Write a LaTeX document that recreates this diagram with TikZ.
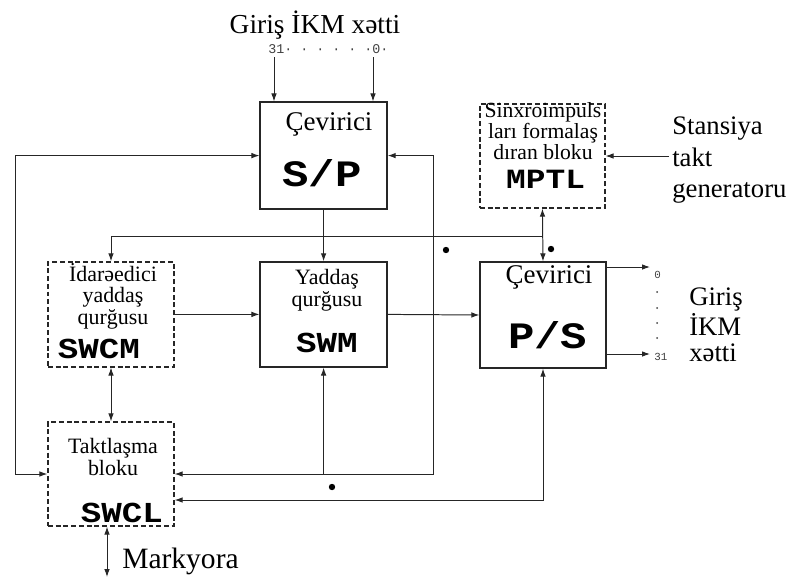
\documentclass[tikz,border=0pt]{standalone}
\usepackage{fontspec}
\setmainfont{Liberation Serif}
\setmonofont{Liberation Mono}
\newfontfamily\codefont[FakeStretch=1.18]{Liberation Mono}
\usetikzlibrary{arrows.meta,positioning}

\begin{document}
\begin{tikzpicture}[>={Latex[length=2mm,width=1.4mm]},
  blk/.style={draw=black!85,line width=0.9pt,minimum width=3.15cm,minimum height=2.62cm,inner sep=0pt},
  dblk/.style={blk,dash pattern=on 3.5pt off 2pt},
  lbl/.style={font=\fontsize{15.6}{15.3}\selectfont,align=center,inner sep=0pt},
  big/.style={font=\fontsize{19.2}{21}\selectfont,inner sep=0pt},
  code/.style={font=\fontsize{20.6}{22}\selectfont\codefont\bfseries,inner sep=0pt},
  bigcode/.style={font=\fontsize{26.5}{28}\selectfont\codefont\bfseries,inner sep=0pt},
  wire/.style={draw=black!85,line width=0.7pt},
  jdot/.style={circle,fill=black,inner sep=0pt,minimum size=0.16cm}]
\useasboundingbox (0,0) rectangle (19.825,-14.425);

% blocks
\node[blk,minimum width=3.175cm,minimum height=2.675cm] (sp) at (8.09,-3.89) {};
\node[blk,minimum width=3.175cm,minimum height=2.625cm] (swm) at (8.09,-7.86) {};
\node[blk,minimum height=2.65cm] (ps) at (13.575,-7.875) {};
\node[dblk,minimum width=3.125cm,minimum height=2.6cm] (mptl) at (13.56,-3.9) {};
\node[dblk,minimum height=2.625cm] (swcm) at (2.775,-7.86) {};
\node[dblk,minimum height=2.6cm] (swcl) at (2.775,-11.85) {};

% block texts
\node[big,anchor=base] (sptxt) at (8.225,-3.25) {Çevirici};
\node[bigcode,anchor=base] (spname) at (8.05,-4.65) {S/P};
\node[big,anchor=base] (pstxt) at (13.725,-7.075) {Çevirici};
\node[bigcode,anchor=base] (psname) at (13.69,-8.7) {P/S};
\node[lbl,font=\fontsize{15.4}{14.8}\selectfont] (mptltxt) at (13.575,-3.28) {Sinxroimpuls\\ları formalaş\\dıran bloku};
\node[code,anchor=base,font=\fontsize{19.8}{21}\selectfont\codefont\bfseries] (mptlname) at (13.64,-4.7) {MPTL};
\node[lbl] (swcmtxt) at (2.825,-7.4) {İdarəedici\\yaddaş\\qurğusu};
\node[code,anchor=base] (swcmname) at (2.475,-8.95) {SWCM};
\node[lbl] (swmtxt) at (8.175,-7.25) {Yaddaş\\qurğusu};
\node[code,anchor=base] (swmname) at (8.175,-8.8) {SWM};
\node[lbl] (swcltxt) at (2.825,-11.425) {Taktlaşma\\bloku};
\node[code,anchor=base] (swclname) at (3.05,-13.05) {SWCL};

% outer texts
\node[font=\fontsize{19.5}{21}\selectfont,anchor=base,inner sep=0pt] (title) at (7.875,-0.825) {Giriş İKM xətti};
\node[font=\fontsize{9.5}{10}\selectfont\ttfamily,text=black!75,anchor=base west,inner sep=0pt] (bits) at (6.7,-1.325) {31· · · · · ·0·};
\node[font=\fontsize{19}{22.2}\selectfont,align=left,anchor=north west,inner sep=0pt] (gen) at (16.8,-2.925) {Stansiya\\takt\\generatoru};
\node[font=\fontsize{19}{18.9}\selectfont,align=left,anchor=north west,inner sep=0pt] (out) at (17.225,-7.2) {Giriş\\İKM\\xətti};
\node[font=\fontsize{21}{23}\selectfont,anchor=base west,inner sep=0pt] (mark) at (3.05,-14.2) {Markyora};
\node[font=\fontsize{7.7}{8}\selectfont\ttfamily,text=black!75,anchor=west,inner sep=0pt] (b0) at (16.35,-6.875) {0};
\node[font=\fontsize{7.7}{8}\selectfont\ttfamily,text=black!75,anchor=west,inner sep=0pt] (b31) at (16.35,-8.925) {31};

% helper points
\coordinate (in31) at (6.85,-1.425);
\coordinate (in0) at (9.325,-1.425);
\coordinate (lft) at (0.375,-3.89);
\coordinate (rgt) at (10.825,-3.89);
\coordinate (bus) at (0,-5.9);
\coordinate (bot) at (0,-12.5);
\coordinate (o0) at (16.25,-6.675);
\coordinate (o31) at (16.25,-8.85);
\coordinate (mk) at (2.675,-14.425);

% connectors
\draw[wire,->] (in31) -- (in31 |- sp.north);
\draw[wire,->] (in0) -- (in0 |- sp.north);
\draw[wire,->] (sp.south) -- (swm.north);
\draw[wire,<->] (sp.west) -- (lft) -- (lft |- swcl.west) -- (swcl.west);
\draw[wire,<->] (sp.east) -- (rgt) -- (rgt |- swcl.east) -- (swcl.east);
\draw[wire,->] (swm.south |- swcl.east) -- (swm.south);
\draw[wire,<->] (ps.south) -- (ps.south |- bot) -- (swcl.east |- bot);
\draw[wire,<->] (mptl.south) -- (ps.north);
\draw[wire,->] (mptl.south |- bus) -| (swcm.north);
\draw[wire,<->] (swcm.south) -- (swcl.north);
\draw[wire,->] (swcm.east) -- (swm.west);
\draw[wire,->] (swm.east) -- (ps.west);
\draw[wire,->] ([xshift=-2pt]gen.west |- mptl.east) -- (mptl.east);
\draw[wire,->] (ps.east |- o0) -- (o0);
\draw[wire,->] (ps.east |- o31) -- (o31);
\draw[wire,<->] (swcl.south -| mk) -- (mk);

% junction marks
\node[jdot] (d1) at (11.15,-6.25) {};
\node[jdot] (d2) at (13.775,-6.225) {};
\node[jdot] (d3) at (8.3,-12.175) {};
\foreach \yy in {-7.3,-7.7,-8.075,-8.45}
  \fill[black!75] (16.425,\yy) circle (0.025);
\end{tikzpicture}
\end{document}
